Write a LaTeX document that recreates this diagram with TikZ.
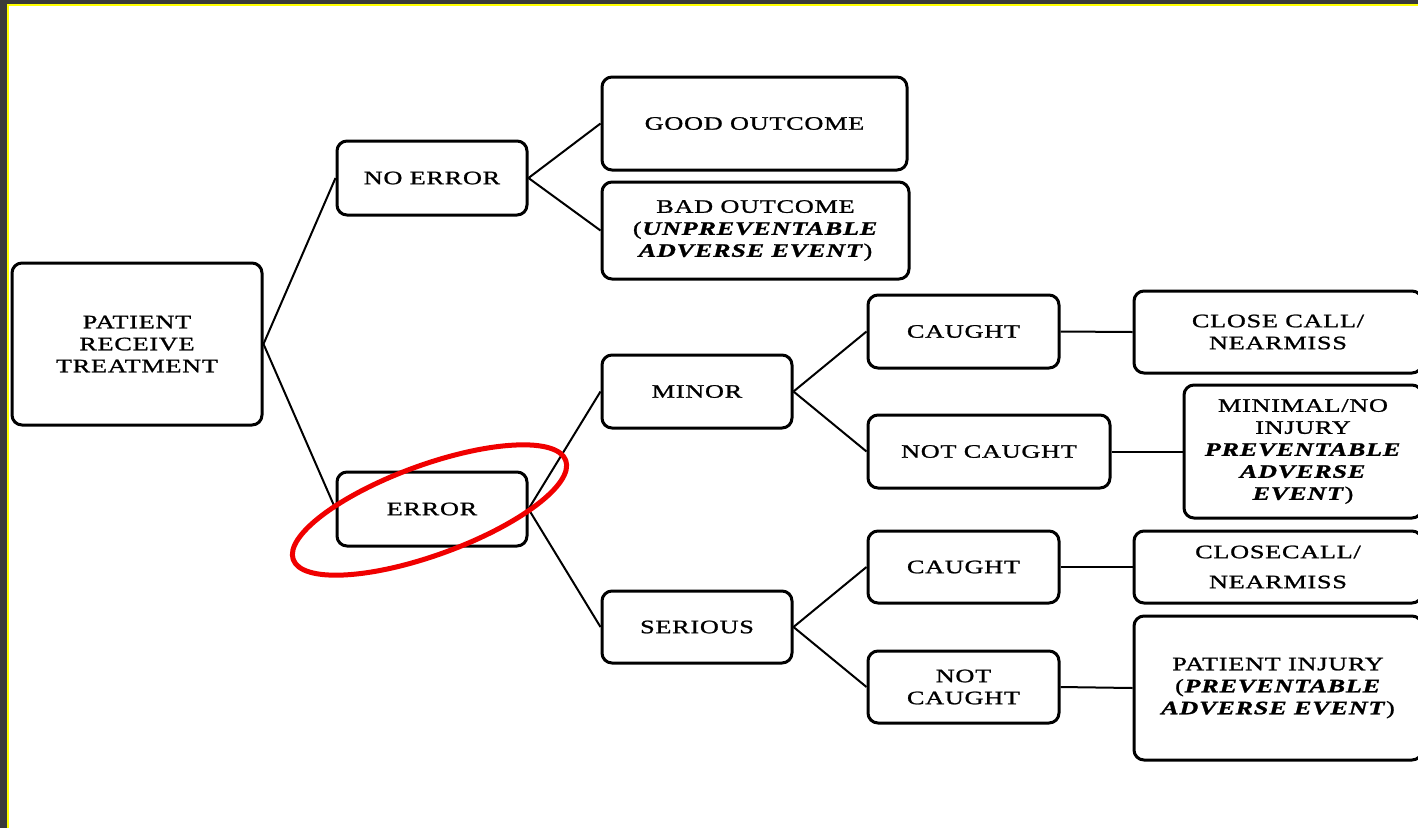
\documentclass[tikz,border=0pt]{standalone}
\usepackage{fontspec}
\newfontfamily\bodyfont[FakeStretch=1.38,LetterSpace=4,FakeBold=1.2]{Liberation Serif}
\definecolor{framedark}{HTML}{3A3A3A}
\definecolor{frameyellow}{HTML}{FFFF00}
\definecolor{ringred}{HTML}{F00000}
\begin{document}
\begin{tikzpicture}[x=1pt,y=-1pt,
  box/.style={draw=black,line width=3pt,rounded corners=10pt,align=center,inner sep=0pt,
    font=\bodyfont\fontsize{19}{22}\selectfont},
  link/.style={draw=black,line width=2pt}]
\useasboundingbox (0,0) rectangle (1418,828);
\fill[white] (0,0) rectangle (1418,828);
\fill[framedark] (0,0) rectangle (1418,4);
\fill[framedark] (0,0) rectangle (7,828);
\fill[frameyellow] (7,4) rectangle (1418,6);
\fill[frameyellow] (7,4) rectangle (9,828);

\node[box,minimum width=250pt,minimum height=162pt] (pat) at (137,344) {PATIENT\\RECEIVE\\TREATMENT};
\node[box,minimum width=190pt,minimum height=74pt] (noerr) at (432,178) {NO ERROR};
\node[box,minimum width=190pt,minimum height=74pt] (err) at (432,509) {ERROR};
\node[box,minimum width=305pt,minimum height=93pt] (good) at (754.5,123.5) {GOOD OUTCOME};
\node[box,minimum width=307pt,minimum height=97pt] (bad) at (755.5,230.5) {BAD OUTCOME\\(\textbf{\textit{UNPREVENTABLE}}\\\textbf{\textit{ADVERSE EVENT}})};
\node[box,minimum width=190pt,minimum height=73pt] (minor) at (697,391.5) {MINOR};
\node[box,minimum width=190pt,minimum height=72pt] (serious) at (697,627) {SERIOUS};
\node[box,minimum width=191pt,minimum height=73pt] (c1) at (963.5,331.5) {CAUGHT};
\node[box,minimum width=242pt,minimum height=73pt] (nc1) at (989,451.5) {NOT CAUGHT};
\node[box,minimum width=191pt,minimum height=72pt] (c2) at (963.5,567) {CAUGHT};
\node[box,minimum width=191pt,minimum height=72pt] (nc2) at (963.5,687) {NOT\\CAUGHT};
\node[box,minimum width=288pt,minimum height=82pt] (cc1) at (1278,332) {CLOSE CALL/\\NEARMISS};
\node[box,minimum width=238pt,minimum height=133pt] (mini) at (1303,451.5) {MINIMAL/NO\\INJURY\\\textbf{\textit{PREVENTABLE}}\\\textbf{\textit{ADVERSE}}\\\textbf{\textit{EVENT}})};
\node[box,minimum width=288pt,minimum height=72pt] (cc2) at (1278,567) {CLOSECALL/\\[8pt]NEARMISS};
\node[box,minimum width=288pt,minimum height=144pt] (pinj) at (1278,688) {PATIENT INJURY\\(\textbf{\textit{PREVENTABLE}}\\\textbf{\textit{ADVERSE EVENT}})};

\draw[link] (pat.east) -- (noerr.west);
\draw[link] (pat.east) -- (err.west);
\draw[link] (noerr.east) -- (good.west);
\draw[link] (noerr.east) -- (bad.west);
\draw[link] (err.east) -- (minor.west);
\draw[link] (err.east) -- (serious.west);
\draw[link] (minor.east) -- (c1.west);
\draw[link] (minor.east) -- (nc1.west);
\draw[link] (serious.east) -- (c2.west);
\draw[link] (serious.east) -- (nc2.west);
\draw[link] (c1.east) -- (cc1.west);
\draw[link] (nc1.east) -- (mini.west);
\draw[link] (c2.east) -- (cc2.west);
\draw[link] (nc2.east) -- (pinj.west);

\coordinate (ringc) at (429.5,510);
\draw[ringred,line width=5pt,rotate around={20:(ringc)}] (ringc) ellipse [x radius=145pt,y radius=45pt];
\end{tikzpicture}
\end{document}
